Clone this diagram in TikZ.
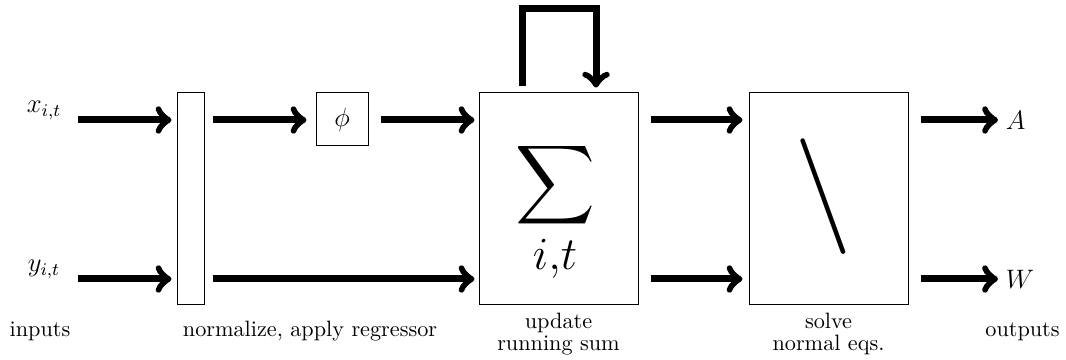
\documentclass[tikz,border=0pt]{standalone}
\usepackage{amsmath}
\usetikzlibrary{calc}

\tikzset{
  flow/.style={->, line width=3.15pt},
  block/.style={draw, line width=0.45pt, inner sep=0pt},
  caption/.style={font=\fontsize{10}{9.9}\selectfont, align=center, inner sep=0pt},
  sym/.style={font=\large},
}

\begin{document}
\begin{tikzpicture}[x=0.45pt, y=-0.45pt]
  \useasboundingbox (0,0) rectangle (1066,360);

  % processing blocks
  \node[block, minimum width=12.15pt, minimum height=95.4pt] (norm) at (190.5,199) {};
  \node[block, sym, minimum width=23.4pt, minimum height=23.85pt] (phi) at (342,119.5) {$\phi$};
  \node[block, minimum width=71.55pt, minimum height=95.4pt] (sum) at (558.5,199) {};
  \node[block, minimum width=71.55pt, minimum height=95.4pt] (solve) at (828.5,199) {};

  % block contents: running sum operator and the solve (backslash) operator
  \node[inner sep=0pt] (sigma) at (555,213)
    {\Huge$\displaystyle\sum_{\raisebox{4.5pt}[\height][\depth]{$\scriptstyle i,t$}}$};
  \node[inner sep=0pt] (bslash) at (823.5,197) {\scalebox{5.2}{$\backslash$}};

  % inputs
  \node[sym, anchor=base] (xin) at (44,113) {$x_{i,t}$};
  \node[sym, anchor=base] (yin) at (44,272) {$y_{i,t}$};
  \coordinate (xs) at (78,120);
  \coordinate (ys) at (78,279);

  % outputs
  \node[sym, anchor=west] (A) at (998,120) {$A$};
  \node[sym, anchor=west] (W) at (998,279) {$W$};

  % input arrows
  \draw[flow, shorten >=2.25pt] (xs) -- (norm.west |- xs);
  \draw[flow, shorten >=2.25pt] (ys) -- (norm.west |- ys);

  % normalize -> regressor -> running sum
  \draw[flow, shorten <=3.6pt, shorten >=4.05pt] (norm.east |- xs) -- (phi.west |- xs);
  \draw[flow, shorten <=5.4pt, shorten >=1.8pt] (phi.east |- xs) -- (sum.west |- xs);
  \draw[flow, shorten <=3.6pt, shorten >=1.8pt] (norm.east |- ys) -- (sum.west |- ys);

  % running sum feedback loop
  \coordinate (fbl) at (522,9);
  \coordinate (fbr) at (596,9);
  \draw[flow, shorten <=2.7pt, shorten >=2.2pt] (sum.north -| fbl) -- (fbl) -- (fbr) -- (sum.north -| fbr);

  % running sum -> solver
  \draw[flow, shorten <=5.4pt, shorten >=2.7pt] (sum.east |- xs) -- (solve.west |- xs);
  \draw[flow, shorten <=5.4pt, shorten >=2.7pt] (sum.east |- ys) -- (solve.west |- ys);

  % solver -> outputs
  \draw[flow, shorten <=5.4pt] (solve.east |- A.west) -- (A.west);
  \draw[flow, shorten <=5.4pt] (solve.east |- W.west) -- (W.west);

  % stage captions
  \node[caption, anchor=base] (lin) at (40,337) {inputs};
  \node[caption, anchor=base] (lnorm) at (310,337) {normalize, apply regressor};
  \node[caption, anchor=north] (lsum) at ([yshift=-3.2pt]sum.south) {update\\running sum};
  \node[caption, anchor=north] (lsolve) at ([yshift=-3.2pt]solve.south) {solve\\normal eqs.};
  \node[caption, anchor=base] (lout) at (1022.5,337) {outputs};
\end{tikzpicture}
\end{document}
